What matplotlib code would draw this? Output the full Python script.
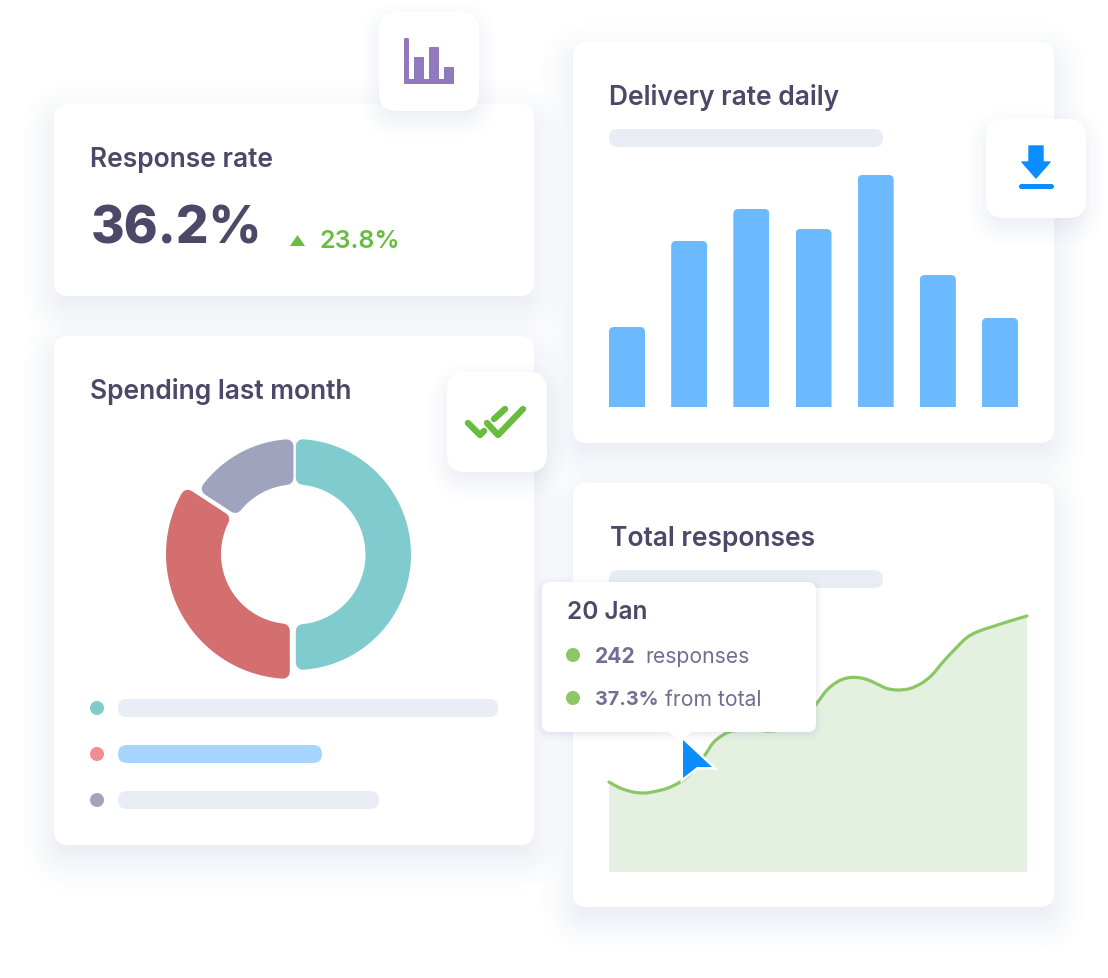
import numpy as np
import matplotlib
matplotlib.use("Agg")
import matplotlib.pyplot as plt
from matplotlib.patches import FancyBboxPatch, Polygon, Circle, PathPatch
from matplotlib.path import Path

W, H = 1108, 979

plt.rcParams['font.family'] = ['Inter', 'DejaVu Sans']

# bar chart, delivery rate daily
delivery_values = [80, 166, 198, 178, 232, 132, 89]

# donut shares, spending last month
spending_shares = [50, 34.2, 15.8]
spending_colors = ['#80cbcd', '#d46f6f', '#a0a3bd']

# total responses curve
response_x = [0, 11, 24, 36, 48, 59, 71, 83, 96, 104, 114, 124, 144, 164, 184, 198, 208, 218, 228, 238,
              248, 258, 268, 278, 289, 301, 313, 323, 334, 348, 358, 369, 384, 401, 418]
response_y = [90, 84, 80, 79, 81, 84, 90, 100, 117, 129, 137, 141, 142, 141, 146, 157, 169, 182, 190, 194,
              194.5, 192.5, 188, 183.5, 182, 183.5, 189, 197, 210, 225, 234.5, 240.5, 245.5, 251, 256]

BLUE = '#0a8dff'
GREEN = '#68bd3e'
LINE_GREEN = '#8cc665'
DARK = '#4c4867'
GREY = '#706f93'
PILL = '#e8ecf5'

cards = [(54, 104, 534, 296), (54, 336, 534, 845), (573, 42, 1054, 443), (573, 483, 1054, 907)]
icons = [(379, 12, 479, 111), (447, 372, 547, 472), (986, 119, 1086, 218)]
tooltip = (542, 582, 816, 732)


def px_axes(l, t, r, b, zorder):
    ax = fig.add_axes([l / W, 1 - (b + 1) / H, (r - l) / W, (b - t) / H], zorder=zorder)
    ax.axis('off')
    return ax


def shadow_layer(rects, radius, offset, blur, strength):
    # soft drop shadow as an RGBA image, distance field of rounded rectangles
    yy, xx = np.mgrid[0:H, 0:W] + 0.5
    alpha = np.zeros((H, W))
    for l, t, r, b in rects:
        cx, cy = (l + r) / 2, (t + b) / 2 + offset
        dx = np.abs(xx - cx) - ((r - l) / 2 - radius)
        dy = np.abs(yy - cy) - ((b - t) / 2 - radius)
        d = np.hypot(np.maximum(dx, 0), np.maximum(dy, 0)) + np.minimum(np.maximum(dx, dy), 0) - radius
        s = np.clip(0.5 - d / (2 * blur), 0, 1)
        s = s * s * (3 - 2 * s)
        alpha = 1 - (1 - alpha) * (1 - strength * s)
    img = np.zeros((H, W, 4))
    img[..., :3] = np.array([96, 116, 176]) / 255
    img[..., 3] = alpha
    return img


def round_box(ax, rect, radius, color, zorder=2):
    l, t, r, b = rect
    box = FancyBboxPatch((l, t), r - l, b - t, boxstyle=f"round,pad=0,rounding_size={radius}",
                         fc=color, ec='none', zorder=zorder)
    ax.add_patch(box)
    return box


def smooth_path(x, y):
    # Catmull-Rom through the read points, as cubic bezier segments
    p = np.column_stack([x, y]).astype(float)
    verts = [p[0]]
    codes = [Path.MOVETO]
    for i in range(len(p) - 1):
        p0 = p[max(i - 1, 0)]
        p3 = p[min(i + 2, len(p) - 1)]
        verts += [p[i] + (p[i + 1] - p0) / 6, p[i + 1] - (p3 - p[i]) / 6, p[i + 1]]
        codes += [Path.CURVE4] * 3
    return verts, codes


def ring_slice(theta1, theta2, r_out, r_in, off1, off2, corner):
    # slice outline with straight parallel sides, stroked later with a round join
    ro, ri = r_out - corner, r_in + corner
    e1, e2 = off1 + corner, off2 + corner
    a_out = np.linspace(theta1 + np.degrees(np.arcsin(e1 / ro)), theta2 - np.degrees(np.arcsin(e2 / ro)), 60)
    a_in = np.linspace(theta2 - np.degrees(np.arcsin(e2 / ri)), theta1 + np.degrees(np.arcsin(e1 / ri)), 40)
    pts = [(ro * np.cos(np.radians(a)), ro * np.sin(np.radians(a))) for a in a_out]
    pts += [(ri * np.cos(np.radians(a)), ri * np.sin(np.radians(a))) for a in a_in]
    return np.array(pts)


fig = plt.figure(figsize=(W / 100, H / 100), dpi=100, facecolor='white')

# cards at the back
back = px_axes(0, -1, W, H - 1, 1)
back.imshow(shadow_layer(cards, 14, 14, 40, 0.17), extent=(0, W, H - 1, -1), interpolation='bilinear', zorder=1)
back.set_xlim(0, W)
back.set_ylim(H - 1, -1)
for c in cards:
    round_box(back, c, 14, 'white')

back.text(90, 159, 'Response rate', fontsize=19, fontweight='semibold', color=DARK, va='center')
back.text(91, 229, '36.2%', fontsize=37, fontweight='extra bold', color=DARK, va='center')
back.text(319, 241, '23.8%', fontsize=18, fontweight='semibold', color=GREEN, va='center')
back.add_patch(Polygon([(290, 246), (305, 246), (297.5, 235)], fc=GREEN, ec='none', zorder=3))
back.text(90, 391, 'Spending last month', fontsize=19, fontweight='semibold', color=DARK, va='center')
back.text(609, 96.5, 'Delivery rate daily', fontsize=19, fontweight='semibold', color=DARK, va='center')
back.text(610, 538, 'Total responses', fontsize=19, fontweight='semibold', color=DARK, va='center')

# placeholder pills
round_box(back, (609, 129, 883, 147), 9, PILL)
round_box(back, (609, 570, 883, 588), 9, PILL)
round_box(back, (118, 699, 498, 717), 9, PILL)
round_box(back, (118, 745, 322, 763), 9, '#a6d5ff')
round_box(back, (118, 791, 379, 809), 9, PILL)
for y, col in zip([708, 754, 800], ['#7fcbcc', '#f08f8f', '#a0a3bd']):
    back.add_patch(Circle((97, y), 7, fc=col, ec='none', zorder=3))

# delivery bars, rounded tops by clipping
step = 62.17
ax_bar = px_axes(596, 165, 1031, 407, 2)
ax_bar.set_xlim(-(627 - 596) / step, (1031 - 627) / step)
ax_bar.set_ylim(0, 242)
bars = ax_bar.bar(range(len(delivery_values)), delivery_values, width=36 / step, color='#6bbaff')
for b in bars:
    clip = FancyBboxPatch((b.get_x(), -20), b.get_width(), b.get_height() + 20,
                          boxstyle=f"round,pad=0,rounding_size={5 / step}", mutation_aspect=step,
                          transform=ax_bar.transData, fc='none', ec='none')
    b.set_clip_path(clip)

# donut, thick round-joined edge gives the soft corners
ax_pie = px_axes(155, 425, 435, 685, 2)
wedges, _ = ax_pie.pie(spending_shares, colors=spending_colors, startangle=90, counterclock=False, radius=116,
                       wedgeprops=dict(width=44))
ax_pie.set_xlim(-140, 140)
ax_pie.set_ylim(-130, 130)
corner = 7
radii = [(115.5, 70), (125, 70), (115.5, 70)]
centers = [(0.5, 0.5), (-4, 1), (0, 0.5)]
offsets = [(0.3, 0.3), (1.5, 1.2), (1.5, 1.0)]
for w, (ro, ri), cen, off, col in zip(wedges, radii, centers, offsets, spending_colors):
    w.set_visible(False)
    pts = ring_slice(w.theta1, w.theta2, ro, ri, off[0], off[1], corner) + np.array(cen)
    ax_pie.add_patch(Polygon(pts, closed=True, fc=col, ec=col, lw=2 * corner * 0.72, joinstyle='round'))

# total responses area
ax_line = px_axes(609, 572, 1027, 872, 2)
ax_line.set_xlim(0, 418)
ax_line.set_ylim(0, 300)
verts, codes = smooth_path(response_x, response_y)
area = Path(verts + [(response_x[-1], 0), (response_x[0], 0), verts[0]],
            codes + [Path.LINETO, Path.LINETO, Path.CLOSEPOLY])
ax_line.add_patch(PathPatch(area, fc='#e4f1e1', ec='none', zorder=1))
ax_line.add_patch(PathPatch(Path(verts, codes), fc='none', ec=LINE_GREEN, lw=2.3, capstyle='round', clip_on=False, zorder=2))

# floating things on top
front = px_axes(0, -1, W, H - 1, 3)
front.imshow(shadow_layer(icons, 18, 10, 24, 0.14), extent=(0, W, H - 1, -1), interpolation='bilinear', zorder=1)
front.imshow(shadow_layer([tooltip], 8, 3, 9, 0.2), extent=(0, W, H - 1, -1), interpolation='bilinear', zorder=1)
front.set_xlim(0, W)
front.set_ylim(H - 1, -1)
for c in icons:
    round_box(front, c, 18, 'white')
round_box(front, tooltip, 8, 'white')
front.add_patch(Polygon([(668, 731), (692, 731), (681, 743)], fc='white', ec='none', zorder=2))

front.text(567, 612, '20 Jan', fontsize=17.6, fontweight='semibold', color=DARK, va='center')
front.add_patch(Circle((573, 655), 7, fc=LINE_GREEN, ec='none', zorder=3))
front.add_patch(Circle((573, 698), 7, fc=LINE_GREEN, ec='none', zorder=3))
front.text(595, 656, '242', fontsize=15.2, fontweight='bold', color=GREY, va='center')
front.text(645, 656, 'responses', fontsize=15.2, color=GREY, va='center')
front.text(595, 699, '37.3%', fontsize=14.2, fontweight='bold', color=GREY, va='center')
front.text(665, 699, 'from total', fontsize=15.2, color=GREY, va='center')

# cursor, white outline first so the blue keeps its full size
cursor = [(683, 740), (712, 767), (697, 767), (683, 778)]
front.add_patch(Polygon(cursor, fc='white', ec='white', lw=3.6, joinstyle='miter', zorder=4))
front.add_patch(Polygon(cursor, fc=BLUE, ec='none', zorder=5))

# chart icon
purple = '#9079bd'
round_box(front, (404, 38, 409, 84), 1.5, purple, 3)
round_box(front, (404, 79, 454, 84), 1.5, purple, 3)
round_box(front, (414, 57, 424, 84), 1, purple, 3)
round_box(front, (429, 47, 439, 84), 1, purple, 3)
round_box(front, (444, 67, 454, 84), 1, purple, 3)

# check icon
front.plot([487, 498, 523], [423, 435, 409], color=GREEN, lw=4.6, solid_capstyle='round', solid_joinstyle='round', zorder=3)
front.plot([468, 480, 484], [423, 435, 431], color=GREEN, lw=4.6, solid_capstyle='round', solid_joinstyle='round', zorder=3)
front.plot([494, 505], [419, 409], color=GREEN, lw=4.6, solid_capstyle='round', zorder=3)

# download icon
front.add_patch(Polygon([(1029, 146), (1043, 146), (1043, 162), (1050, 162), (1036, 178), (1022, 162), (1029, 162)],
                        fc=BLUE, ec=BLUE, lw=1, joinstyle='round', zorder=3))
round_box(front, (1019, 184, 1054, 189), 2.5, BLUE, 3)

fig.savefig('out.png', dpi=100, facecolor='white')
